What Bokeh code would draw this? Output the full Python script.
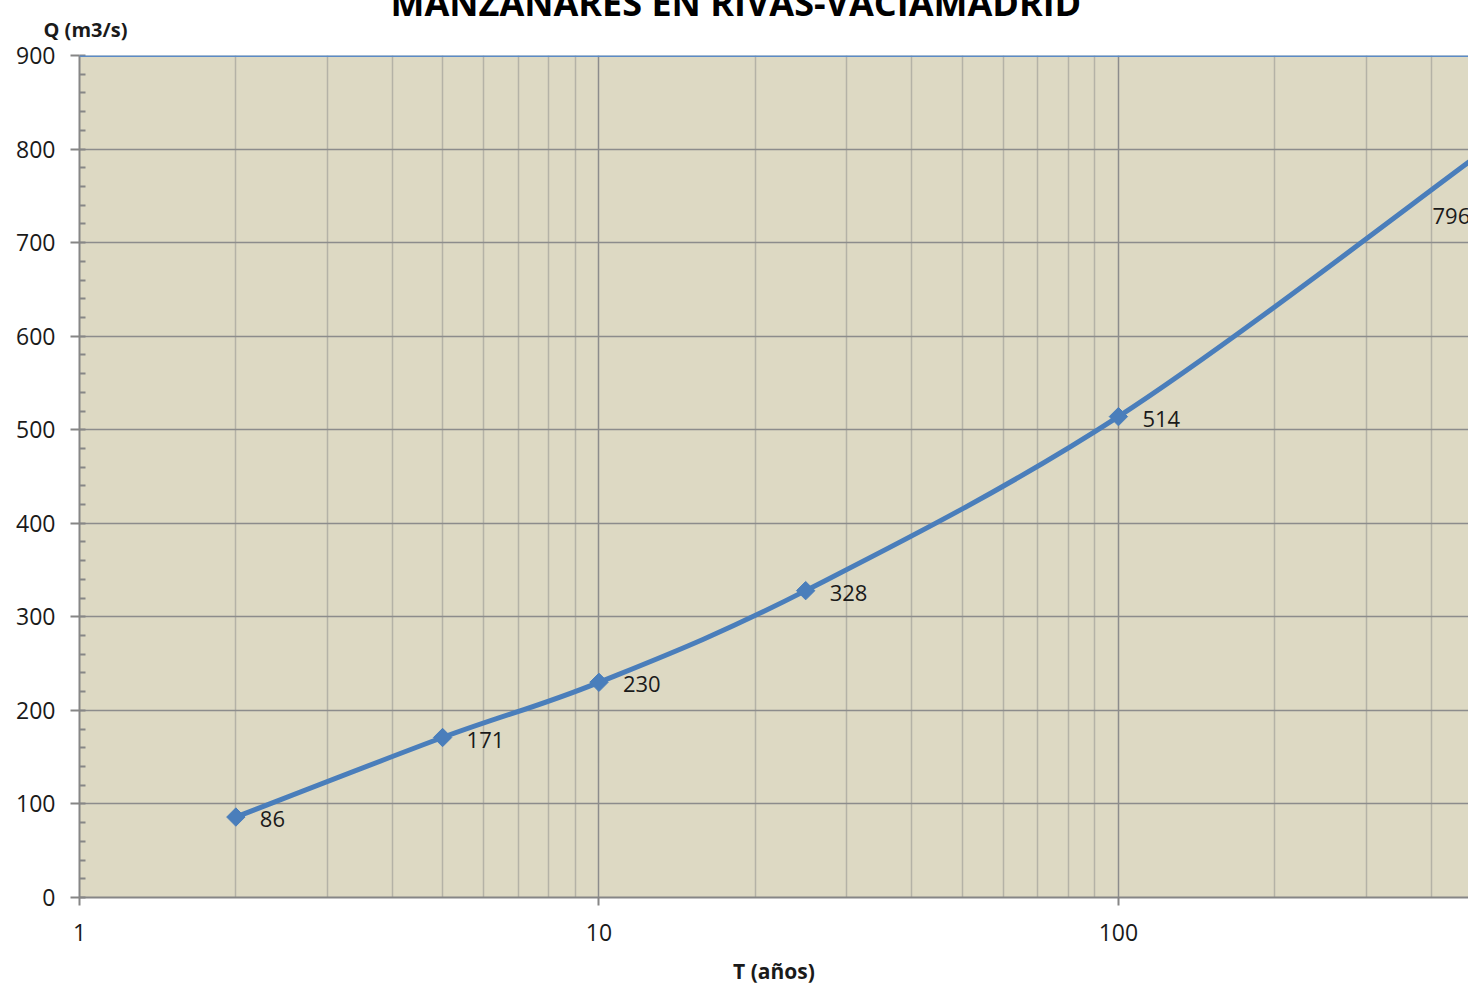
import numpy as np
from bokeh.plotting import figure
from bokeh.models import (ColumnDataSource, FixedTicker, LabelSet, Span, Title,
                          Range1d, NumeralTickFormatter)
from bokeh.core.properties import value
from bokeh.embed import file_html
from bokeh.resources import INLINE

# ---- data ----
title_text = "MANZANARES EN RIVAS-VACIAMADRID"
x_title = "T (años)"
y_title = "Q (m3/s)"
periods = [2, 5, 10, 25, 100, 500]
flows = [86, 171, 230, 328, 514, 796]
flow_labels = ["86", "171", "230", "328", "514", "796"]
x_major_ticks = [1, 10, 100]
x_minor_ticks = [2, 3, 4, 5, 6, 7, 8, 9, 20, 30, 40, 50, 60, 70, 80, 90, 200, 300, 400]
y_major_ticks = [0, 100, 200, 300, 400, 500, 600, 700, 800, 900]
y_minor_ticks = list(range(0, 901, 20))

# ---- styles ----
FONT = "Open Sans"
LINE_BLUE = "#4A7EBB"
BG = "#DDD9C3"
GRID_DARK = "#8C8C8C"
GRID_LIGHT = "#B4B2A6"
AXIS_GRAY = "#868686"
TEXT = "#1A1A1A"

x_lo, x_hi = 1, 472
p = figure(width=1468, height=987, x_axis_type="log",
           x_range=Range1d(x_lo, x_hi), y_range=Range1d(0, 900),
           output_backend="svg", toolbar_location=None,
           min_border_left=79, min_border_right=0, min_border_top=55, min_border_bottom=90,
           background_fill_color=BG, border_fill_color="white", outline_line_color=None)

# main title (runs off the very top edge, as in the reference)
p.title.text = title_text
p.title.text_font = FONT
p.title.text_font_size = "36px"
p.title.text_font_style = "bold"
p.title.text_color = "#000000"
p.title.align = "left"
p.title.offset = 311
p.title.standoff = -52
p.title.vertical_align = "bottom"

# x axis
xa = p.xaxis[0]
xa.ticker = FixedTicker(ticks=x_major_ticks, minor_ticks=x_minor_ticks)
xa.formatter = NumeralTickFormatter(format="0")
xa.axis_line_color = AXIS_GRAY
xa.axis_line_width = 2
xa.major_tick_line_color = AXIS_GRAY
xa.major_tick_line_width = 2
xa.major_tick_out = 8
xa.major_tick_in = 0
xa.minor_tick_line_color = None
xa.major_label_text_font = FONT
xa.major_label_text_font_size = "23px"
xa.major_label_text_color = TEXT
xa.major_label_standoff = 18
xa.axis_label = x_title
xa.axis_label_text_font = FONT
xa.axis_label_text_font_size = "21px"
xa.axis_label_text_font_style = "bold"
xa.axis_label_text_color = TEXT
xa.axis_label_standoff = 13

# y axis
ya = p.yaxis[0]
ya.ticker = FixedTicker(ticks=y_major_ticks, minor_ticks=y_minor_ticks)
ya.axis_line_color = AXIS_GRAY
ya.axis_line_width = 2
ya.major_tick_line_color = AXIS_GRAY
ya.major_tick_line_width = 2
ya.major_tick_out = 9
ya.major_tick_in = 0
ya.minor_tick_line_color = AXIS_GRAY
ya.minor_tick_line_width = 2
ya.minor_tick_in = 6
ya.minor_tick_out = 0
ya.major_label_text_font = FONT
ya.major_label_text_font_size = "23px"
ya.major_label_text_color = TEXT
ya.major_label_standoff = 15

# top border line of the plot area
p.add_layout(Span(location=900, dimension="width", line_color="#5B8AC6", line_width=3))

# grids
p.xgrid.grid_line_color = GRID_DARK
p.xgrid.grid_line_width = 1.5
p.xgrid.minor_grid_line_color = GRID_LIGHT
p.xgrid.minor_grid_line_width = 1.5
p.ygrid.grid_line_color = GRID_DARK
p.ygrid.grid_line_width = 1.5

# smooth curve (Bezier segments, control points from the data in log-x space)
u = np.log10(np.array(periods, dtype=float))
v = np.array(flows, dtype=float)
n = len(u)
seg = dict(x0=[], y0=[], x1=[], y1=[], cx0=[], cy0=[], cx1=[], cy1=[])
for i in range(n - 1):
    ip = max(i - 1, 0)
    inn = min(i + 2, n - 1)
    c0u = u[i] + (u[i + 1] - u[ip]) / 6
    c0v = v[i] + (v[i + 1] - v[ip]) / 6
    c1u = u[i + 1] - (u[inn] - u[i]) / 6
    c1v = v[i + 1] - (v[inn] - v[i]) / 6
    seg["x0"].append(10 ** u[i]); seg["y0"].append(v[i])
    seg["x1"].append(10 ** u[i + 1]); seg["y1"].append(v[i + 1])
    seg["cx0"].append(10 ** c0u); seg["cy0"].append(c0v)
    seg["cx1"].append(10 ** c1u); seg["cy1"].append(c1v)
p.bezier(x0="x0", y0="y0", x1="x1", y1="y1", cx0="cx0", cy0="cy0", cx1="cx1", cy1="cy1",
         source=ColumnDataSource(seg), line_color=LINE_BLUE, line_width=5, line_cap="round")

pts = ColumnDataSource(dict(x=periods, y=flows, lab=flow_labels,
                            xo=[24] * (n - 1) + [-49], yo=[-2] * (n - 1) + [-63]))
p.scatter("x", "y", source=pts, marker="square", angle=np.pi / 4, size=13,
          fill_color=LINE_BLUE, line_color=LINE_BLUE)
p.add_layout(LabelSet(x="x", y="y", text="lab", source=pts, x_offset="xo", y_offset="yo",
                      text_font=value(FONT), text_font_size="22px", text_color=TEXT,
                      text_align="left", text_baseline="middle"))

# y title at top-left (horizontal, above the axis)
p.add_layout(Title(text=y_title, align="left", offset=-36, standoff=26,
                   text_font=FONT, text_font_size="20px", text_font_style="bold",
                   text_color=TEXT), "above")

open("out.html", "w").write(file_html(p, INLINE))
